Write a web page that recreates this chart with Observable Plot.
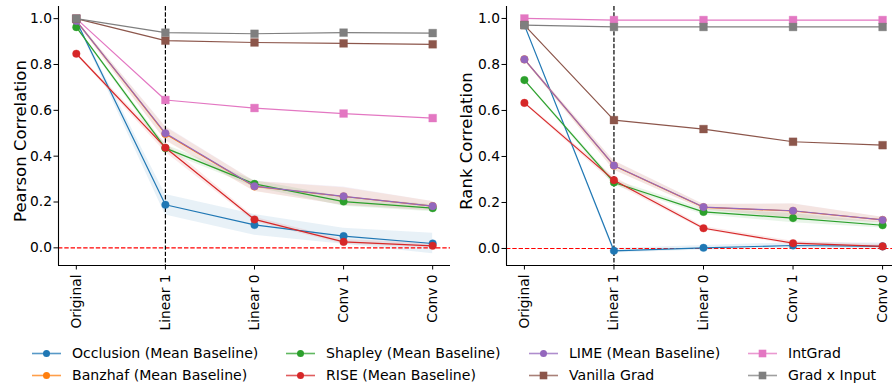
<!DOCTYPE html>
<html>
<head>
<meta charset="utf-8">
<script src="https://cdn.jsdelivr.net/npm/d3@7"></script>
<script src="https://cdn.jsdelivr.net/npm/@observablehq/plot@0.6"></script>
<style>
  html, body { margin: 0; padding: 0; background: #fff; overflow: hidden; }
  #wrap { position: relative; width: 892px; height: 385px; font-family: "DejaVu Sans", sans-serif; overflow: hidden; }
  .panel { position: absolute; top: 0; width: 452px; height: 335px; }
  .panel svg { max-width: none !important; width: 452px !important; height: 335px !important; }
  .leg { position: absolute; font-size: 14.1px; color: #000; white-space: nowrap; line-height: 16px; }
  .leg svg { position: absolute; left: 0; top: 0; }
  .leg span { position: absolute; top: 0; }
</style>
</head>
<body>
<div id="wrap"></div>
<script>
const layers = ["Original", "Linear 1", "Linear 0", "Conv 1", "Conv 0"];
const methods = ["Occlusion (Mean Baseline)", "Banzhaf (Mean Baseline)", "Shapley (Mean Baseline)",
  "RISE (Mean Baseline)", "LIME (Mean Baseline)", "IntGrad", "Vanilla Grad", "Grad x Input"];
const colors = ["#1f77b4", "#ff7f0e", "#2ca02c", "#d62728", "#9467bd", "#e377c2", "#8c564b", "#7f7f7f"];
const symbols = ["circle", "circle", "circle", "circle", "circle", "square", "square", "square"];

// Pearson correlation (mean per layer), one row per method
const pearsonMean = [
  [0.990, 0.188, 0.100, 0.051, 0.019],
  [0.990, 0.497, 0.268, 0.224, 0.182],
  [0.963, 0.435, 0.279, 0.202, 0.173],
  [0.847, 0.437, 0.124, 0.026, 0.009],
  [0.990, 0.500, 0.269, 0.225, 0.182],
  [1.000, 0.645, 0.610, 0.586, 0.566],
  [1.000, 0.904, 0.896, 0.892, 0.888],
  [1.000, 0.939, 0.934, 0.939, 0.937]
];
const pearsonSpread = [
  [0.005, 0.045, 0.045, 0.035, 0.045],
  [0.005, 0.030, 0.022, 0.038, 0.020],
  [0.005, 0.015, 0.015, 0.020, 0.015],
  [0.005, 0.020, 0.010, 0.010, 0.010],
  [0.005, 0.030, 0.022, 0.040, 0.020],
  [0, 0, 0, 0, 0],
  [0, 0, 0, 0, 0],
  [0, 0, 0, 0, 0]
];

// Rank correlation
const rankMean = [
  [0.971, -0.010, 0.003, 0.013, 0.009],
  [0.822, 0.360, 0.179, 0.163, 0.124],
  [0.732, 0.287, 0.159, 0.132, 0.101],
  [0.633, 0.297, 0.088, 0.023, 0.009],
  [0.822, 0.361, 0.180, 0.164, 0.124],
  [1.000, 0.993, 0.993, 0.993, 0.993],
  [0.971, 0.558, 0.519, 0.464, 0.449],
  [0.971, 0.963, 0.963, 0.963, 0.963]
];
const rankSpread = [
  [0.005, 0.010, 0.010, 0.012, 0.015],
  [0.005, 0.020, 0.012, 0.030, 0.012],
  [0.005, 0.012, 0.012, 0.020, 0.012],
  [0.005, 0.015, 0.008, 0.008, 0.008],
  [0.005, 0.020, 0.012, 0.030, 0.012],
  [0, 0, 0, 0, 0],
  [0, 0, 0, 0, 0],
  [0, 0, 0, 0, 0]
];

const yTicks = [0, 0.2, 0.4, 0.6, 0.8, 1.0];

function rows(mean, spread) {
  const out = [];
  methods.forEach((m, mi) => {
    layers.forEach((l, li) => {
      out.push({method: m, mi, x: li, v: mean[mi][li], lo: mean[mi][li] - spread[mi][li], hi: mean[mi][li] + spread[mi][li]});
    });
  });
  return out;
}

function panel(mean, spread, label, yDomain, marginLeft, labelDx) {
  const data = rows(mean, spread);
  const marks = [];
  methods.forEach((m, mi) => {
    const d = data.filter(r => r.mi === mi);
    marks.push(Plot.areaY(d, {x: "x", y1: "lo", y2: "hi", fill: colors[mi], fillOpacity: 0.1}));
  });
  marks.push(Plot.ruleY([0], {stroke: "#ff0000", strokeWidth: 1.2, strokeDasharray: "4.4,1.9"}));
  marks.push(Plot.ruleX([1], {stroke: "#000", strokeWidth: 1.2, strokeDasharray: "4.4,1.9"}));
  methods.forEach((m, mi) => {
    const d = data.filter(r => r.mi === mi);
    marks.push(Plot.lineY(d, {x: "x", y: "v", stroke: colors[mi], strokeWidth: 1.2}));
    marks.push(Plot.dot(d, {x: "x", y: "v", fill: colors[mi], stroke: colors[mi], strokeOpacity: 0.35, strokeWidth: 1,
      symbol: symbols[mi], r: symbols[mi] === "square" ? 4.4 : 3.8}));
  });
  marks.push(Plot.ruleX([-0.2], {stroke: "#000", strokeWidth: 1.1}));
  marks.push(Plot.ruleY([yDomain[0]], {stroke: "#000", strokeWidth: 1.1}));
  marks.push(Plot.axisY(yTicks, {tickSize: 4.5, tickPadding: 2, fontSize: 13.8, tickFormat: d3.format(".1f"), label: null}));
  marks.push(Plot.axisX([0, 1, 2, 3, 4], {tickSize: 4.5, tickPadding: 4.5, fontSize: 13.8, tickRotate: -90,
    tickFormat: i => layers[i], label: null}));
  marks.push(Plot.text([label], {frameAnchor: "left", textAnchor: "middle", lineAnchor: "middle", rotate: -90,
    dx: labelDx, dy: 5, fontSize: 16.5, fill: "#000"}));
  return Plot.plot({
    width: 452,
    height: 335,
    marginLeft,
    marginRight: 2,
    marginTop: 6,
    marginBottom: 70,
    style: {fontFamily: "DejaVu Sans, sans-serif", color: "#000", background: "transparent", overflow: "visible", maxWidth: "none"},
    x: {domain: [-0.2, 4.2], axis: null},
    y: {domain: yDomain, axis: null},
    marks
  });
}

const wrap = document.getElementById("wrap");
const p1 = panel(pearsonMean, pearsonSpread, "Pearson Correlation", [-0.077, 1.053], 58, -38);
const d1 = document.createElement("div"); d1.className = "panel"; d1.style.left = "0px"; d1.appendChild(p1); wrap.appendChild(d1);
const p2 = panel(rankMean, rankSpread, "Rank Correlation", [-0.074, 1.052], 56, -40);
const d2 = document.createElement("div"); d2.className = "panel"; d2.style.left = "450px"; d2.appendChild(p2); wrap.appendChild(d2);

// Legend (4 columns x 2 rows, column-major order like matplotlib)
const legendOrder = [0, 1, 2, 3, 4, 6, 5, 7];
const colX = [32, 286, 529, 748];
const rowY = [345, 367];
legendOrder.forEach((mi, k) => {
  const col = Math.floor(k / 2), row = k % 2;
  const el = document.createElement("div");
  el.className = "leg";
  el.style.left = colX[col] + "px";
  el.style.top = rowY[row] + "px";
  const ns = "http://www.w3.org/2000/svg";
  const svg = document.createElementNS(ns, "svg");
  svg.setAttribute("width", 30); svg.setAttribute("height", 16);
  const ln = document.createElementNS(ns, "line");
  ln.setAttribute("x1", 0); ln.setAttribute("x2", 29); ln.setAttribute("y1", 8.5); ln.setAttribute("y2", 8.5);
  ln.setAttribute("stroke", colors[mi]); ln.setAttribute("stroke-width", 1.6); ln.setAttribute("stroke-opacity", 0.75);
  svg.appendChild(ln);
  let mk;
  if (symbols[mi] === "square") {
    mk = document.createElementNS(ns, "rect");
    mk.setAttribute("x", 14.5 - 3.8); mk.setAttribute("y", 8.5 - 3.8); mk.setAttribute("width", 7.6); mk.setAttribute("height", 7.6);
  } else {
    mk = document.createElementNS(ns, "circle");
    mk.setAttribute("cx", 14.5); mk.setAttribute("cy", 8.5); mk.setAttribute("r", 3.5);
  }
  mk.setAttribute("fill", colors[mi]);
  svg.appendChild(mk);
  el.appendChild(svg);
  const sp = document.createElement("span");
  sp.style.left = "40px";
  sp.textContent = methods[mi];
  el.appendChild(sp);
  wrap.appendChild(el);
});
</script>
</body>
</html>
